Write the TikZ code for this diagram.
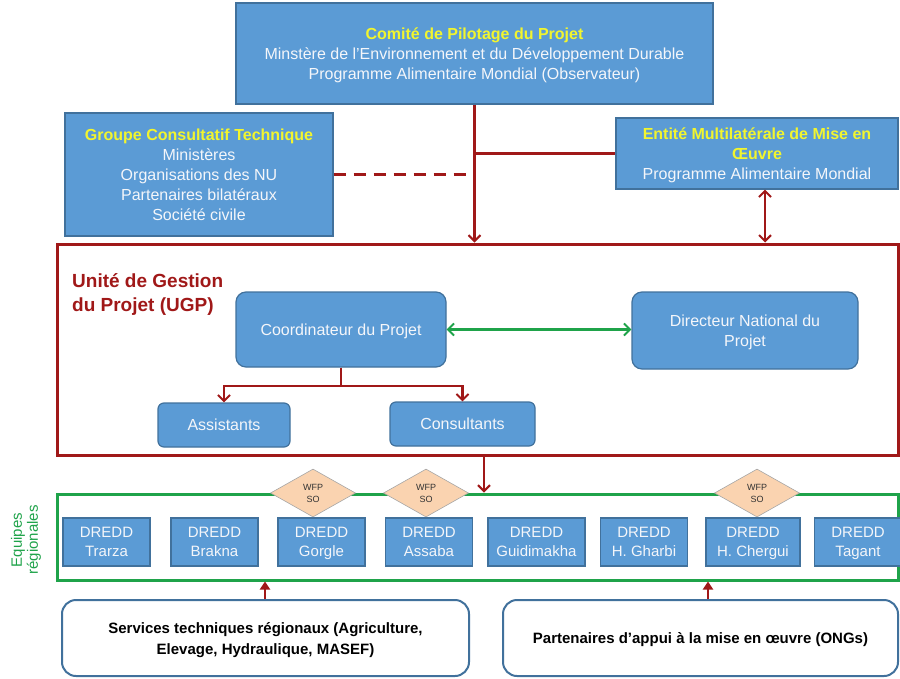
\documentclass[tikz,border=0pt]{standalone}
\usepackage{fontspec}
\setmainfont{Liberation Sans}
\usetikzlibrary{shapes.geometric,arrows.meta}
\definecolor{boxblue}{HTML}{5B9BD5}
\definecolor{boxedge}{HTML}{41719C}
\definecolor{dred}{HTML}{A01818}
\definecolor{dgreen}{HTML}{1FA34A}
\definecolor{peach}{HTML}{FAD3B0}
\definecolor{ylw}{HTML}{F2F52E}
\definecolor{txtw}{HTML}{F4F6FA}
\tikzset{
  bluebox/.style={draw=boxedge, fill=boxblue, line width=1.2pt, text=txtw, align=center, inner sep=0pt, text depth=-3pt, font=\fontsize{16}{20}\selectfont},
  rbox/.style={bluebox, rounded corners=10pt},
  dredd/.style={bluebox, text depth=0pt, minimum width=87, minimum height=48, font=\fontsize{15}{19}\selectfont},
  wfp/.style={diamond, draw=gray!70, fill=peach, line width=0.6pt, minimum width=85, minimum height=48, inner sep=0pt, align=center, font=\fontsize{9}{12}\selectfont, text=black!80},
  wbox/.style={draw=boxedge, line width=2pt, rounded corners=14pt, fill=white, align=center, inner sep=0pt, text depth=-8pt, font=\bfseries\fontsize{15}{21}\selectfont},
  redline/.style={draw=dred, line width=2.6pt},
  barb/.tip={Straight Barb[length=6pt,width=12pt,line width=2pt]},
  chev/.style={-barb}
}
\begin{document}
\begin{tikzpicture}[x=1pt,y=-1pt]
\useasboundingbox (0,0) rectangle (900,678);
% frames
\node[draw=dred, line width=3pt, minimum width=841, minimum height=211, inner sep=0pt] (ugp) at (477.5,349.5) {};
\node[draw=dgreen, line width=3pt, minimum width=841, minimum height=86, inner sep=0pt] (eq) at (477.5,537) {};
% top boxes
\node[bluebox, minimum width=477, minimum height=101, text depth=-8pt] (top) at (474.5,53.5)
  {\textcolor{ylw}{\bfseries Comité de Pilotage du Projet}\\Minstère de l'Environnement et du Développement Durable\\Programme Alimentaire Mondial (Observateur)};
\node[bluebox, minimum width=268, minimum height=123, text depth=0pt] (grp) at (199,174.5)
  {\textcolor{ylw}{\bfseries Groupe Consultatif Technique}\\Ministères\\Organisations des NU\\Partenaires bilatéraux\\Société civile};
\node[bluebox, minimum width=282, minimum height=71] (ent) at (757,153.5)
  {\textcolor{ylw}{\bfseries Entité Multilatérale de Mise en}\\\textcolor{ylw}{\bfseries Œuvre}\\Programme Alimentaire Mondial};
% UGP content
\node[anchor=north west, align=left, text=dred, font=\bfseries\fontsize{19}{24}\selectfont, inner sep=0pt] (ugplab) at (72,273) {Unité de Gestion\\du Projet (UGP)};
\node[rbox, minimum width=210, minimum height=75] (coord) at (341,329.5) {Coordinateur du Projet};
\node[rbox, minimum width=226, minimum height=77] (dir) at (745,330.5) {Directeur National du\\Projet};
\node[rbox, rounded corners=6pt, minimum width=132, minimum height=44] (asst) at (224,425) {Assistants};
\node[rbox, rounded corners=6pt, minimum width=145, minimum height=44] (cons) at (462.5,424) {Consultants};
% DREDD
\node[dredd] (d1) at (106.5,542) {DREDD\\Trarza};
\node[dredd] (d2) at (214.5,542) {DREDD\\Brakna};
\node[dredd] (d3) at (321.5,542) {DREDD\\Gorgle};
\node[dredd] (d4) at (429,542) {DREDD\\Assaba};
\node[dredd, minimum width=97] (d5) at (536.5,542) {DREDD\\Guidimakha};
\node[dredd] (d6) at (644,542) {DREDD\\H. Gharbi};
\node[dredd, minimum width=94] (d7) at (753,542) {DREDD\\H. Chergui};
\node[dredd] (d8) at (858,542) {DREDD\\Tagant};
\node[wfp] (w1) at (313,493) {WFP\\SO};
\node[wfp] (w2) at (426,493) {WFP\\SO};
\node[wfp] (w3) at (757,493) {WFP\\SO};
\node[rotate=90, text=dgreen, align=center, font=\fontsize{15}{16}\selectfont, inner sep=0pt] (eqlab) at (26,540) {Equipes\\régionales};
% bottom boxes
\node[wbox, minimum width=407, minimum height=76] (svc) at (265.5,638) {Services techniques régionaux (Agriculture,\\Elevage, Hydraulique, MASEF)};
\node[wbox, minimum width=395, minimum height=76] (ptn) at (700.5,638) {Partenaires d'appui à la mise en œuvre (ONGs)};
% connectors
\draw[redline, chev] (top.south) -- (top.south |- ugp.north);
\draw[redline] (top.south |- ent.west) -- (ent.west);
\draw[redline, dash pattern=on 12pt off 8pt] (grp.east) -- (top.south |- grp.east);
\draw[redline, barb-barb] ([xshift=8pt]ent.south) -- ([xshift=8pt]ent.south |- ugp.north);
\draw[draw=dgreen, line width=2.4pt, barb-barb] (coord.east) -- (dir.west |- coord.east);
\draw[redline, line width=2.2pt, chev] (coord.south) -- ++(0,18) -| (asst.north);
\draw[redline, line width=2.2pt, chev] (coord.south) -- ++(0,18) -| (cons.north);
\draw[redline, chev] (484,0 |- ugp.south) -- (484,0 |- eq.north);
\draw[redline, -{Triangle[length=8pt,width=10pt]}] (265,0 |- svc.north) -- (265,0 |- eq.south);
\draw[redline, -{Triangle[length=8pt,width=10pt]}] (708,0 |- ptn.north) -- (708,0 |- eq.south);
\end{tikzpicture}
\end{document}
